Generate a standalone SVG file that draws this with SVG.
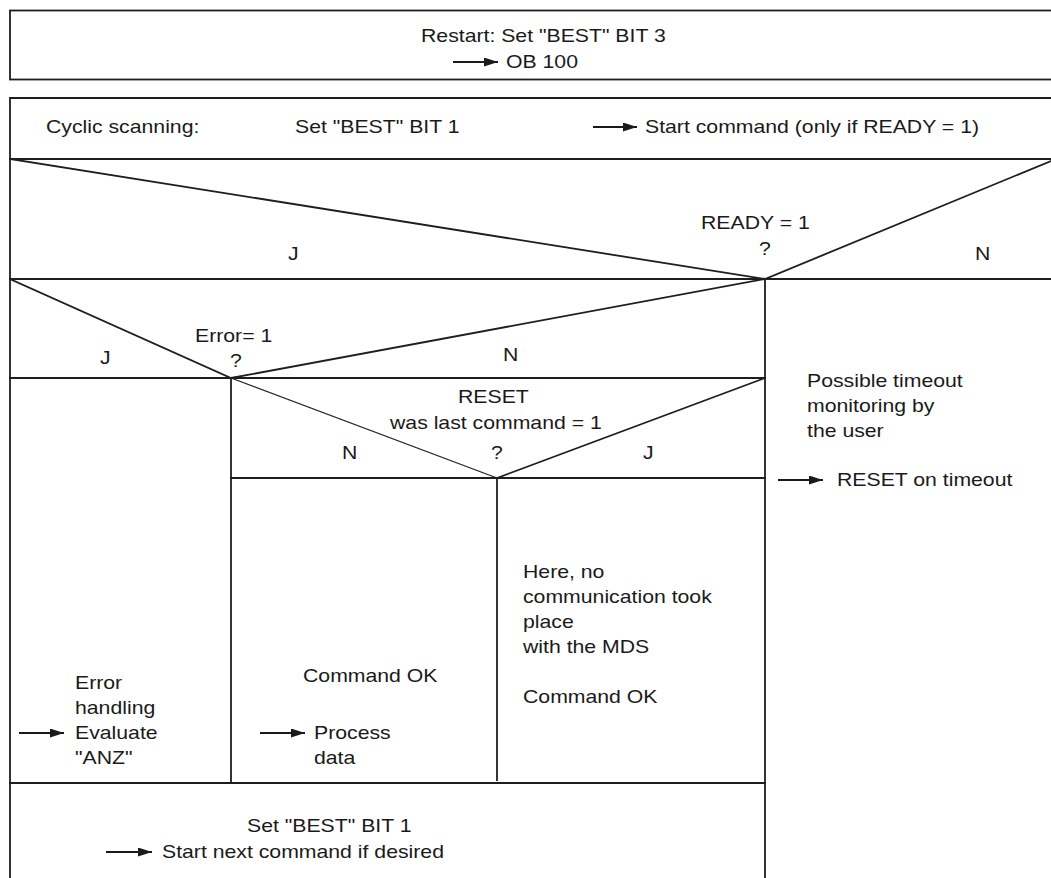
<svg xmlns="http://www.w3.org/2000/svg" width="1051" height="878" viewBox="0 0 1051 878">
  <style>
    .bg { fill: #ffffff; }
    .ln { stroke: #1e1e1e; stroke-width: 1.8; fill: none; stroke-linecap: square; }
    .thin { stroke: #1e1e1e; stroke-width: 1.2; fill: none; }
    .t { font-family: "Liberation Sans", Arial, sans-serif; font-size: 18px; fill: #1a1a1a; }
    .ar { stroke: #1a1a1a; stroke-width: 1.8; fill: none; }
  </style>
  <defs>
    <marker id="head" viewBox="0 0 14 9" refX="14" refY="4.5" markerWidth="14" markerHeight="9" markerUnits="userSpaceOnUse" orient="auto">
      <path d="M0,0 L14,4.5 L0,9 z" fill="#1a1a1a"/>
    </marker>
  </defs>
  <rect class="bg" x="0" y="0" width="1051" height="878"/>

  <!-- restart block -->
  <g id="restart">
    <rect class="ln" x="10" y="10.5" width="1100" height="69"/>
    <text class="t" transform="translate(421,42) scale(1.18,1)">Restart: Set "BEST" BIT 3</text>
    <text class="t" transform="translate(506,68) scale(1.18,1)">OB 100</text>
  </g>

  <!-- cyclic block frame -->
  <g id="cyclic">
    <path class="ln" d="M10,98 H1060 M10,98 V878 M10,159 H1060"/>
    <text class="t" transform="translate(46,133) scale(1.18,1)">Cyclic scanning:</text>
    <text class="t" transform="translate(295,133) scale(1.18,1)">Set "BEST" BIT 1</text>
    <text class="t" transform="translate(645,133) scale(1.18,1)">Start command (only if READY = 1)</text>
  </g>

  <!-- decision READY = 1 -->
  <g id="ready">
    <path class="ln" d="M10,159 L765,279 L1051,161 M10,279 H1060"/>
    <text class="t" transform="translate(701,229) scale(1.18,1)">READY = 1</text>
    <text class="t" transform="translate(759,255) scale(1.18,1)">?</text>
    <text class="t" transform="translate(288,260) scale(1.18,1)">J</text>
    <text class="t" transform="translate(975,260) scale(1.18,1)">N</text>
  </g>

  <!-- decision Error = 1 -->
  <g id="error">
    <path class="ln" d="M10,279 L231,378 L765,279 M10,378 H765"/>
    <text class="t" transform="translate(195,342) scale(1.18,1)">Error= 1</text>
    <text class="t" transform="translate(230,367) scale(1.18,1)">?</text>
    <text class="t" transform="translate(100,364) scale(1.18,1)">J</text>
    <text class="t" transform="translate(503,361) scale(1.18,1)">N</text>
  </g>

  <!-- decision RESET was last command -->
  <g id="reset">
    <path class="thin" d="M231,378 L497,478"/>
    <path class="ln" d="M497,478 L765,378 M231,478 H765"/>
    <text class="t" transform="translate(458,403) scale(1.18,1)">RESET</text>
    <text class="t" transform="translate(390,429) scale(1.18,1)">was last command = 1</text>
    <text class="t" transform="translate(342,459) scale(1.18,1)">N</text>
    <text class="t" transform="translate(491,459) scale(1.18,1)">?</text>
    <text class="t" transform="translate(643,459) scale(1.18,1)">J</text>
  </g>

  <!-- timeout branch -->
  <g id="timeout">
    <path class="ln" d="M765,279 V878"/>
    <text class="t" transform="translate(807,387) scale(1.18,1)">Possible timeout<tspan x="0" dy="25">monitoring by</tspan><tspan x="0" dy="25">the user</tspan></text>
    <text class="t" transform="translate(837,486) scale(1.18,1)">RESET on timeout</text>
  </g>

  <!-- error handling -->
  <g id="error-handling">
    <path class="ln" d="M231,378 V783"/>
    <text class="t" transform="translate(75,689) scale(1.18,1)">Error<tspan x="0" dy="25">handling</tspan><tspan x="0" dy="25">Evaluate</tspan><tspan x="0" dy="25">"ANZ"</tspan></text>
  </g>

  <!-- command OK, process data -->
  <g id="process-data">
    <path class="ln" d="M497,478 V780"/>
    <text class="t" transform="translate(303,682) scale(1.18,1)">Command OK</text>
    <text class="t" transform="translate(314,739) scale(1.18,1)">Process<tspan x="0" dy="25">data</tspan></text>
  </g>

  <!-- no communication -->
  <g id="no-communication">
    <text class="t" transform="translate(523,578) scale(1.18,1)">Here, no<tspan x="0" dy="25">communication took</tspan><tspan x="0" dy="25">place</tspan><tspan x="0" dy="25">with the MDS</tspan><tspan x="0" dy="50">Command OK</tspan></text>
  </g>

  <!-- next command -->
  <g id="next-command">
    <path class="ln" d="M10,783 H765"/>
    <text class="t" transform="translate(247,832) scale(1.18,1)">Set "BEST" BIT 1</text>
    <text class="t" transform="translate(162,858) scale(1.18,1)">Start next command if desired</text>
  </g>

  <!-- arrows -->
  <g id="connectors">
    <line class="ar" x1="453" y1="62" x2="498" y2="62" marker-end="url(#head)"/>
    <line class="ar" x1="593" y1="127" x2="637" y2="127" marker-end="url(#head)"/>
    <line class="ar" x1="778" y1="480" x2="823" y2="480" marker-end="url(#head)"/>
    <line class="ar" x1="19" y1="733" x2="64" y2="733" marker-end="url(#head)"/>
    <line class="ar" x1="260" y1="733" x2="305" y2="733" marker-end="url(#head)"/>
    <line class="ar" x1="106" y1="852" x2="152" y2="852" marker-end="url(#head)"/>
  </g>
</svg>
